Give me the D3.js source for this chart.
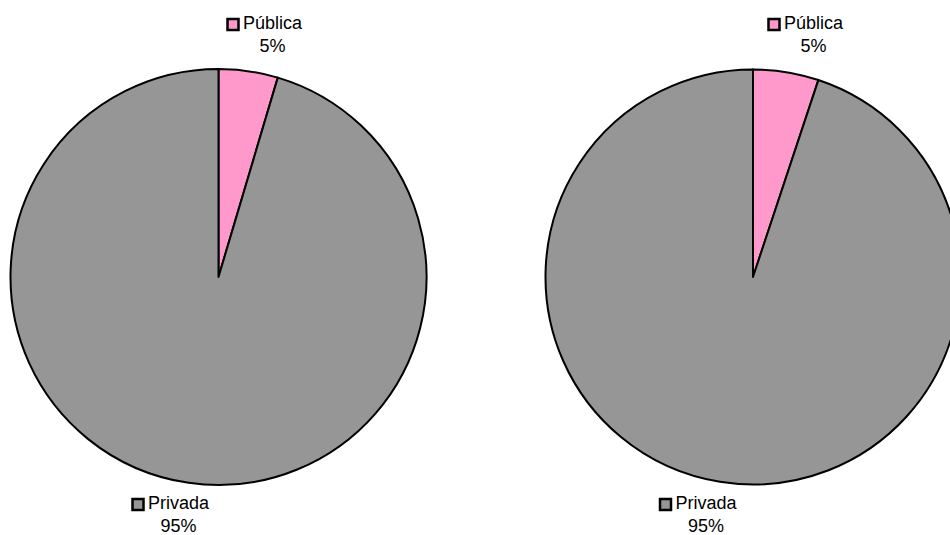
<!DOCTYPE html>
<html>
<head>
<meta charset="utf-8">
<script src="https://cdn.jsdelivr.net/npm/d3@7"></script>
<style>
  html, body { margin: 0; padding: 0; background: #fff; overflow: hidden; }
  svg { display: block; }
  text { font-family: "Liberation Sans", Arial, sans-serif; font-size: 18px; fill: #000; }
</style>
</head>
<body>
<svg id="chart" width="950" height="535"></svg>
<script>
// Shares of public vs. private, two panels
const categories = ["Pública", "Privada"];
const leftValues = [4.6, 95.4];
const rightValues = [5.1, 94.9];
const colors = ["#FF99CC", "#969696"];

const svg = d3.select("#chart");
const color = d3.scaleOrdinal().domain(categories).range(colors);
const pct = d3.format(".0%");

const panels = [
  { values: leftValues, cx: 218.5, cy: 277, r: 208,
    labels: [{ x: 226.5, y: 29 }, { x: 131.5, y: 509 }] },
  { values: rightValues, cx: 753, cy: 277, r: 207.5,
    labels: [{ x: 767.5, y: 29 }, { x: 659, y: 509 }] }
];

const pie = d3.pie().sort(null).value(d => d.value);

panels.forEach(p => {
  const data = categories.map((c, i) => ({ name: c, value: p.values[i] }));
  const arcs = pie(data);
  const total = d3.sum(p.values);
  const arc = d3.arc().innerRadius(0).outerRadius(p.r);

  const g = svg.append("g").attr("transform", `translate(${p.cx},${p.cy})`);
  g.selectAll("path")
    .data(arcs)
    .join("path")
    .attr("d", arc)
    .attr("fill", d => color(d.data.name))
    .attr("stroke", "#000")
    .attr("stroke-width", 2)
    .attr("stroke-linejoin", "round");

  // Category labels: swatch + name, percentage centred underneath the name
  arcs.forEach((a, i) => {
    const pos = p.labels[i];
    const lg = svg.append("g").attr("transform", `translate(${pos.x},${pos.y})`);
    lg.append("rect")
      .attr("x", 1).attr("y", -10)
      .attr("width", 11).attr("height", 11)
      .attr("fill", color(a.data.name))
      .attr("stroke", "#000").attr("stroke-width", 2.5);
    const name = lg.append("text")
      .attr("x", 16.5).attr("y", 0)
      .text(a.data.name);
    const w = name.node().getComputedTextLength();
    lg.append("text")
      .attr("x", 16.5 + w / 2).attr("y", 23)
      .attr("text-anchor", "middle")
      .text(pct(a.data.value / total));
  });
});
</script>
</body>
</html>
